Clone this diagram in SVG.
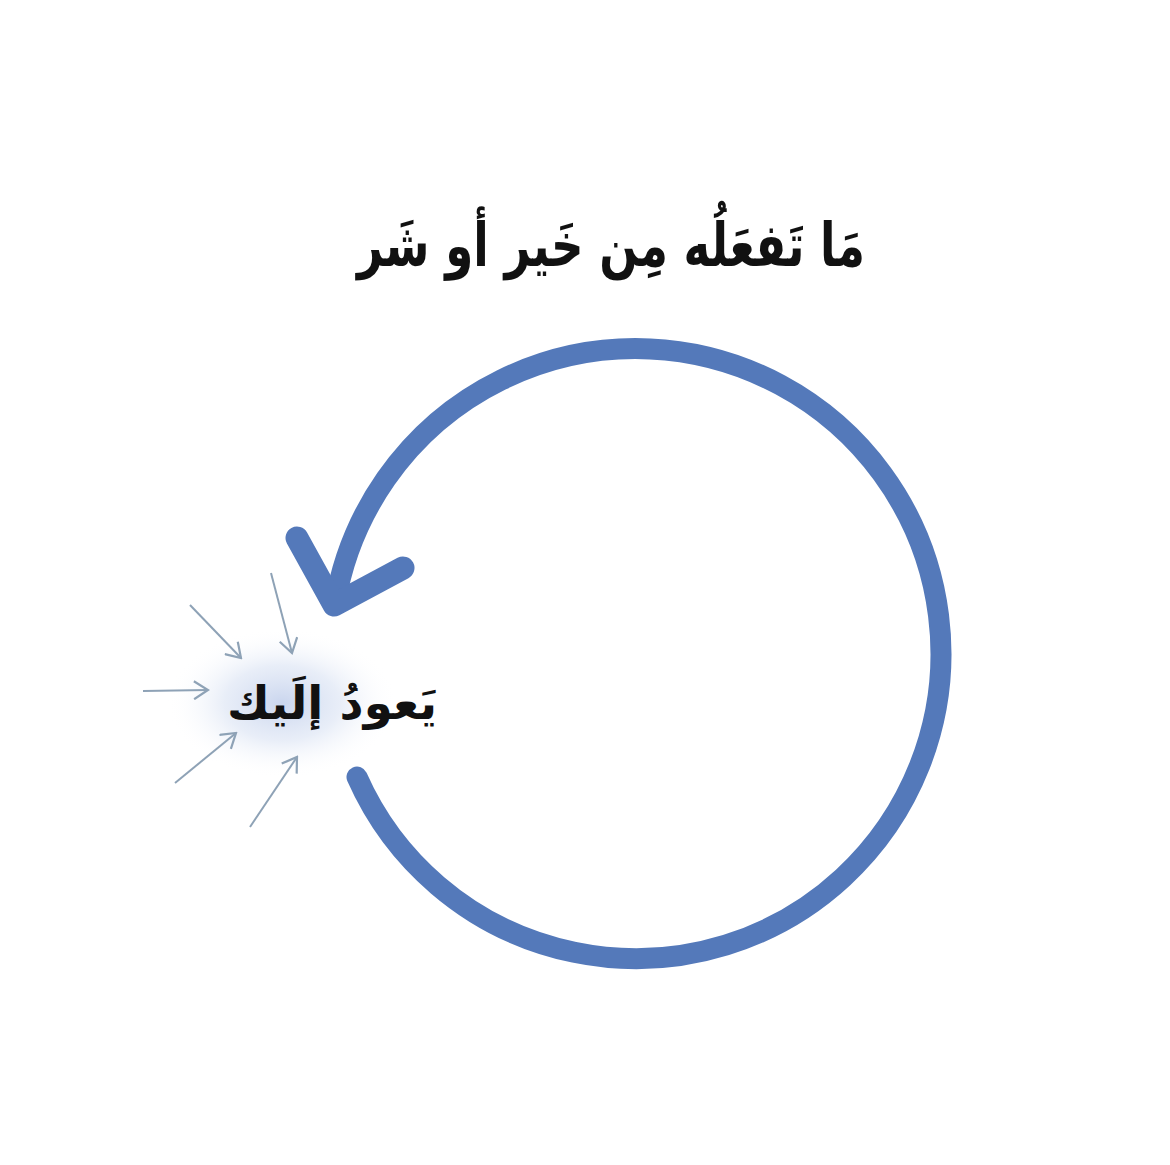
<svg xmlns="http://www.w3.org/2000/svg" width="1170" height="1165" viewBox="0 0 1170 1165">
  <style>
    .ar { font-family: "DejaVu Sans", "Noto Sans", sans-serif; font-weight: bold; fill: #111111; }
    .cycle { fill: none; stroke: #5479BA; stroke-linecap: round; stroke-linejoin: round; }
    .ray { fill: none; stroke: #8EA2B6; stroke-width: 2; }
  </style>
  <defs>
    <marker id="chev" viewBox="0 0 20 20" refX="18" refY="10" markerWidth="20" markerHeight="20" markerUnits="userSpaceOnUse" orient="auto">
      <path d="M4 1 L18 10 L4 19" fill="none" stroke="#8EA2B6" stroke-width="2.2"/>
    </marker>
    <radialGradient id="glow" cx="0.5" cy="0.5" r="0.5">
      <stop offset="0" stop-color="#C4D1EC" stop-opacity="0.9"/>
      <stop offset="0.5" stop-color="#D9E2F3" stop-opacity="0.6"/>
      <stop offset="1" stop-color="#FFFFFF" stop-opacity="0"/>
    </radialGradient>
  </defs>
  <rect width="1170" height="1165" fill="#FFFFFF"/>

  <g id="title">
    <text class="ar" x="611" y="266" font-size="60" text-anchor="middle" textLength="508" lengthAdjust="spacingAndGlyphs">مَا تَفعَلُه مِن خَير أو شَر</text>
  </g>

  <g id="cycle">
    <path class="cycle" stroke-width="21" d="M 357 777 A 305 305 0 1 0 335 604"/>
    <path class="cycle" stroke-width="23" d="M 297 538 L 334 605 L 403 568"/>
  </g>

  <g id="target">
    <ellipse cx="282" cy="703" rx="115" ry="75" fill="url(#glow)"/>
    <text class="ar" x="332" y="719" font-size="46" text-anchor="middle" textLength="210" lengthAdjust="spacingAndGlyphs">يَعودُ إلَيك</text>
  </g>

  <g id="connectors">
    <line class="ray" x1="190" y1="605" x2="241" y2="658" marker-end="url(#chev)"/>
    <line class="ray" x1="271" y1="573" x2="292" y2="653" marker-end="url(#chev)"/>
    <line class="ray" x1="143" y1="691" x2="208" y2="690" marker-end="url(#chev)"/>
    <line class="ray" x1="175" y1="783" x2="236" y2="733" marker-end="url(#chev)"/>
    <line class="ray" x1="250" y1="827" x2="297" y2="757" marker-end="url(#chev)"/>
  </g>
</svg>
